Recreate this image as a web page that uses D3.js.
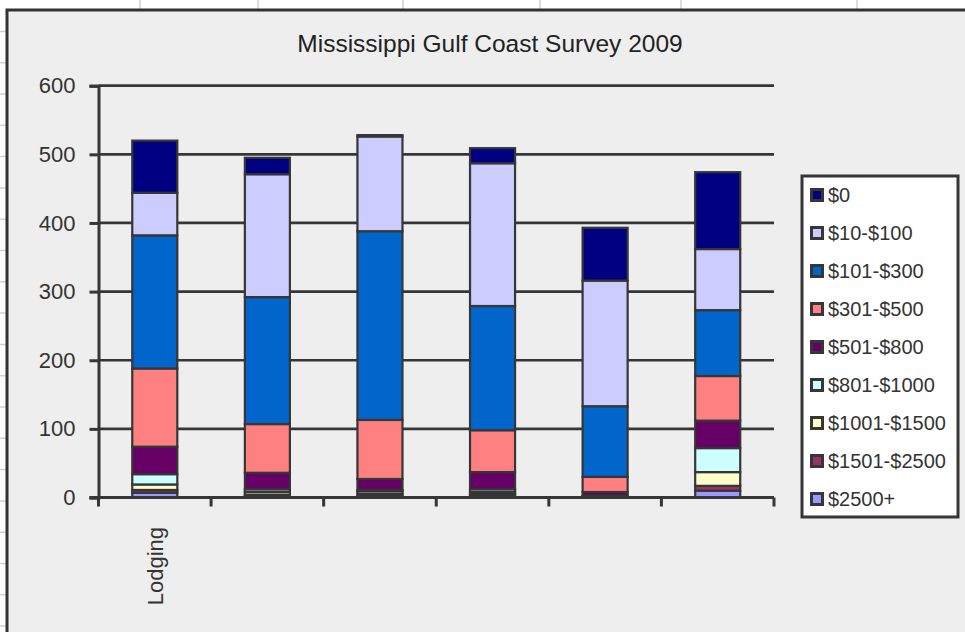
<!DOCTYPE html>
<html>
<head>
<meta charset="utf-8">
<script src="https://cdn.jsdelivr.net/npm/d3@7"></script>
<style>
  html, body { margin: 0; padding: 0; background: #ffffff; }
  svg { display: block; font-family: "Liberation Sans", Arial, sans-serif; }
</style>
</head>
<body>
<svg id="chart" width="965" height="632"></svg>
<script>
// Survey categories (only the first carries a label on the axis)
const categories = ["Lodging", "", "", "", "", ""];

// Spending brackets, top of stack first
const seriesNames = ["$0", "$10-$100", "$101-$300", "$301-$500", "$501-$800",
                     "$801-$1000", "$1001-$1500", "$1501-$2500", "$2500+"];
const seriesColors = ["#000080", "#CCCCFF", "#0066CC", "#FF8080", "#660066",
                      "#CCFFFF", "#FFFFCC", "#993366", "#9999FF"];

// Responses per bracket, one value per category
const s0       = [76, 24, 2, 22, 77, 112];
const s10_100  = [62, 179, 138, 208, 183, 89];
const s101_300 = [194, 185, 275, 181, 103, 96];
const s301_500 = [114, 71, 86, 61, 22, 65];
const s501_800 = [40, 24, 16, 25, 5, 40];
const s801_1000  = [15, 4, 2, 4, 1, 35];
const s1001_1500 = [8, 4, 4, 3, 1, 20];
const s1501_2500 = [4, 2, 2, 2, 0, 7];
const s2500plus  = [7, 2, 3, 3, 1, 10];

const seriesValues = [s0, s10_100, s101_300, s301_500, s501_800,
                      s801_1000, s1001_1500, s1501_2500, s2500plus];

const yTicks = [0, 100, 200, 300, 400, 500, 600];
const titleText = "Mississippi Gulf Coast Survey 2009";

const svg = d3.select("#chart");
const W = 965, H = 632;

// Worksheet cell lines behind the chart object
const sheet = svg.append("g");
sheet.append("rect").attr("width", W).attr("height", H).attr("fill", "#ffffff");
d3.range(0, 21).forEach(i => {
  const yy = 31.4 + i * 31.3;
  sheet.append("line").attr("x1", 0).attr("x2", W).attr("y1", yy).attr("y2", yy)
    .attr("stroke", "#c9d2e3").attr("stroke-width", 1.5);
});
[140, 258, 403, 540, 681, 857].forEach(xx => {
  sheet.append("line").attr("x1", xx).attr("x2", xx).attr("y1", 0).attr("y2", H)
    .attr("stroke", "#c9d2e3").attr("stroke-width", 1.5);
});

// Chart area
svg.append("rect")
  .attr("x", 7).attr("y", 10).attr("width", W + 10).attr("height", H + 10)
  .attr("fill", "#eeeeee").attr("stroke", "#333333").attr("stroke-width", 3);

// Title
svg.append("text")
  .attr("x", 490).attr("y", 52)
  .attr("text-anchor", "middle")
  .attr("font-size", 24.5)
  .attr("fill", "#222222")
  .text(titleText);

// Scales
const plotLeft = 98.5, plotRight = 774, plotTop = 85.7, plotBottom = 497.5;
const x = d3.scaleBand().domain(d3.range(categories.length)).range([plotLeft, plotRight]).padding(0);
const y = d3.scaleLinear().domain([0, 600]).range([plotBottom, plotTop]);
const barW = x.bandwidth() * 0.4;

// Horizontal gridlines
svg.append("g").selectAll("line")
  .data(yTicks.filter(t => t > 0))
  .join("line")
  .attr("x1", plotLeft).attr("x2", plotRight)
  .attr("y1", d => y(d)).attr("y2", d => y(d))
  .attr("stroke", "#363636").attr("stroke-width", 2.7);

// Stacked bars: bottom bracket first
const rows = categories.map((c, i) => {
  const r = { idx: i };
  seriesNames.forEach((n, k) => { r[n] = seriesValues[k][i]; });
  return r;
});
const stackKeys = seriesNames.slice().reverse();
const stacked = d3.stack().keys(stackKeys)(rows);
const colorOf = d3.scaleOrdinal().domain(seriesNames).range(seriesColors);

const barsG = svg.append("g");
stacked.forEach(layer => {
  barsG.append("g")
    .attr("fill", colorOf(layer.key))
    .selectAll("rect")
    .data(layer)
    .join("rect")
    .attr("x", (d, i) => x(i) + (x.bandwidth() - barW) / 2)
    .attr("width", barW)
    .attr("y", d => y(d[1]))
    .attr("height", d => Math.max(0, y(d[0]) - y(d[1])))
    .attr("stroke", "#363636")
    .attr("stroke-width", 2.2);
});

// Y axis
const yAxis = svg.append("g")
  .attr("transform", `translate(${plotLeft},0)`)
  .call(d3.axisLeft(y).tickValues(yTicks).tickSize(9).tickPadding(14).tickFormat(d3.format("d")));
yAxis.select(".domain").attr("stroke", "#363636").attr("stroke-width", 3);
yAxis.selectAll(".tick line").attr("stroke", "#363636").attr("stroke-width", 3);
yAxis.selectAll(".tick text")
  .attr("font-size", 22).attr("fill", "#333333")
  .attr("font-family", "'Liberation Sans', Arial, sans-serif");

// X axis: ticks on category boundaries
const xAxisG = svg.append("g");
xAxisG.append("line")
  .attr("x1", plotLeft - 9).attr("x2", plotRight)
  .attr("y1", plotBottom).attr("y2", plotBottom)
  .attr("stroke", "#363636").attr("stroke-width", 3);
const boundaries = d3.range(categories.length + 1).map(i => plotLeft + i * x.bandwidth());
xAxisG.selectAll("line.tick")
  .data(boundaries)
  .join("line")
  .attr("class", "tick")
  .attr("x1", d => d).attr("x2", d => d)
  .attr("y1", plotBottom).attr("y2", plotBottom + 9)
  .attr("stroke", "#363636").attr("stroke-width", 3);
xAxisG.selectAll("text")
  .data(categories.map((c, i) => ({ c, i })).filter(d => d.c))
  .join("text")
  .attr("transform", d => `translate(${x(d.i) + x.bandwidth() / 2 + 8},527) rotate(-90)`)
  .attr("text-anchor", "end")
  .attr("font-size", 22)
  .attr("fill", "#333333")
  .text(d => d.c);

// Legend
const lg = svg.append("g");
lg.append("rect")
  .attr("x", 802).attr("y", 176).attr("width", 156).attr("height", 341)
  .attr("fill", "#ffffff").attr("stroke", "#363636").attr("stroke-width", 3);
const items = lg.selectAll("g.item")
  .data(seriesNames)
  .join("g")
  .attr("class", "item")
  .attr("transform", (d, i) => `translate(0,${195 + i * 38})`);
items.append("rect")
  .attr("x", 811.5).attr("y", -5.5).attr("width", 11).attr("height", 11)
  .attr("fill", d => colorOf(d))
  .attr("stroke", "#363636").attr("stroke-width", 3);
items.append("text")
  .attr("x", 828).attr("y", 0).attr("dy", "0.35em")
  .attr("font-size", 20).attr("fill", "#333333")
  .text(d => d);
</script>
</body>
</html>
